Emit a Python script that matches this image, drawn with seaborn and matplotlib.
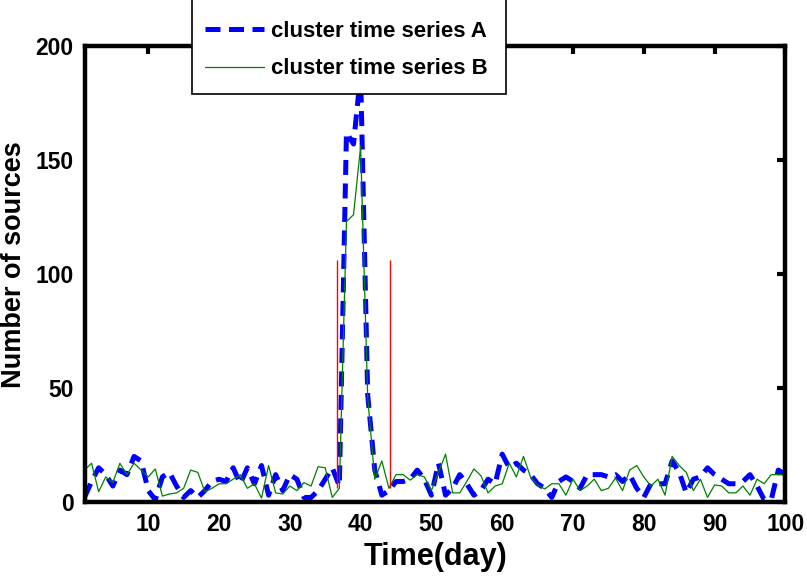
import numpy as np
import pandas as pd
import matplotlib
matplotlib.use("Agg")
import matplotlib.pyplot as plt
import seaborn as sns
from matplotlib.patches import Rectangle

# ---------------- data ----------------
days = list(range(1, 101))
series_a = [2, 9, 15, 12, 7, 14, 12, 20, 18, 5,
            1, 11, 13, 7, 2, 5, 2, 5, 9, 10,
            9, 15, 8, 15, 8, 16, 3, 12, 5, 12,
            10, 2, 2, 5, 10, 15, 7, 162, 157, 188,
            47, 14, 3, 5, 9, 9, 10, 14, 10, 3,
            17, 3, 6, 12, 8, 3, 5, 10, 8, 21,
            15, 17, 14, 12, 8, 6, 2, 9, 11, 9,
            6, 12, 12, 12, 11, 12, 9, 12, 6, 2,
            8, 8, 8, 18, 13, 4, 10, 11, 15, 12,
            10, 8, 8, 9, 12, 7, 1, 1, 14, 12]
series_b = [14, 17, 4.5, 11, 8.5, 17, 12, 17, 14, 11,
            14.5, 2.6, 3.5, 4, 6, 14, 13, 4.5, 6, 8,
            8, 10, 12, 6, 8, 1.7, 16, 4, 3.5, 7,
            5, 8.5, 7, 15.5, 15, 2, 6, 123, 126, 156,
            46, 10, 18, 6, 12, 12, 9.6, 12, 11, 5,
            13, 21, 4, 4, 9, 14.5, 11.5, 4, 7, 8,
            17, 11, 20, 11, 7.5, 5.7, 8, 8, 3, 10,
            5, 7, 10, 5, 6, 10.5, 5, 14, 16, 11,
            7, 10, 3, 20, 16, 13, 5, 10, 2, 7.5,
            7, 4, 4, 7, 3, 10, 8, 12, 12, 12]
marker_days = [36.7, 44.2]
marker_low = [6, 6]
marker_high = [106, 106]
x_ticks = [10, 20, 30, 40, 50, 60, 70, 80, 90, 100]
y_ticks = [0, 50, 100, 150, 200]
label_a = "cluster time series A"
label_b = "cluster time series B"

# ---------------- style ----------------
sns.set_theme(style="white")
plt.rcParams["font.family"] = ["Liberation Sans", "DejaVu Sans"]
plt.rcParams["font.weight"] = "bold"
plt.rcParams["axes.labelweight"] = "bold"
for key in ["text.color", "axes.labelcolor", "xtick.color", "ytick.color"]:
    plt.rcParams[key] = "black"

W, H = 807, 581
fig = plt.figure(figsize=(W / 100, H / 100), dpi=100)
x0, x1, ytop, ybot = 84.5, 785.4, 46, 502
ax = fig.add_axes([x0 / W, 1 - ybot / H, (x1 - x0) / W, (ybot - ytop) / H])

df = pd.DataFrame({"day": days, "A": series_a, "B": series_b})
sns.lineplot(data=df, x="day", y="A", ax=ax, color="#0000ff", linewidth=3.6,
             label=label_a)
ax.lines[-1].set_linestyle((0, (3, 1.7)))
ax.lines[-1].set_dash_capstyle("butt")
sns.lineplot(data=df, x="day", y="B", ax=ax, color="#008000", linewidth=0.9,
             label=label_b)
ax.vlines(marker_days, marker_low, marker_high, color="#ff0000", linewidth=1.0)

ax.set_xlim(1, 100)
ax.set_ylim(0, 200)
ax.set_xticks(x_ticks)
ax.set_yticks(y_ticks)
ax.tick_params(direction="in", length=6, width=3, top=True, right=True,
               labelsize=16.5, pad=8, colors="black")
for lab in ax.get_xticklabels() + ax.get_yticklabels():
    lab.set_fontweight("bold")
for sp in ax.spines.values():
    sp.set_linewidth(3.2)
    sp.set_color("black")
    sp.set_visible(True)

ax.set_xlabel("Time(day)", fontsize=22, fontweight="bold")
ax.set_ylabel("Number of sources", fontsize=19.5, fontweight="bold")
ax.xaxis.set_label_coords((435 - x0) / (x1 - x0), (ybot - 542) / (ybot - ytop))
ax.xaxis.label.set_va("top")
ax.yaxis.set_label_coords((27 - x0) / (x1 - x0), (ybot - 265) / (ybot - ytop))

handles, labels = ax.get_legend_handles_labels()
if ax.get_legend() is not None:
    ax.get_legend().remove()

# legend frame (its top runs beyond the figure edge)
rect = Rectangle((192 / W, 1 - 94 / H), (506 - 192) / W, 0.3,
                 transform=fig.transFigure, facecolor="white",
                 edgecolor="black", linewidth=1.2, zorder=4)
fig.add_artist(rect)
leg = fig.legend(handles, labels, loc="center left",
                 bbox_to_anchor=(205 / W, 1 - 50 / H),
                 frameon=False,
                 prop=dict(family=["Liberation Sans", "DejaVu Sans"],
                           weight="bold", size=16),
                 handlelength=2.64, handletextpad=0.32, labelspacing=0.75,
                 borderpad=0, borderaxespad=0)
leg.set_zorder(5)

fig.savefig("out.png", dpi=100)
